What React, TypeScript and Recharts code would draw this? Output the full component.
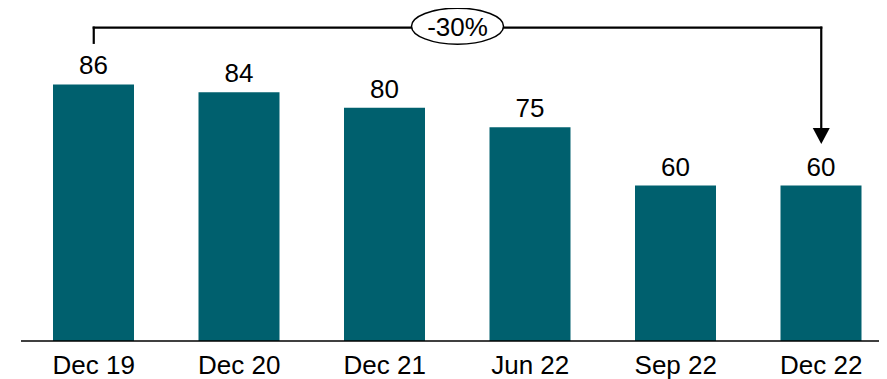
import React from 'react';
import { BarChart, Bar, XAxis, YAxis, LabelList, ReferenceLine } from 'recharts';

const categories = ['Dec 19', 'Dec 20', 'Dec 21', 'Jun 22', 'Sep 22', 'Dec 22'];
const values = [86, 84, 80, 75, 60, 60];
const changeLabel = '-30%';
const bracketLevel = 100.6;
const leftLegEnd = 96.7;
const arrowTipLevel = 70.7;
const yDomain: [number, number] = [20, 100];

const data = categories.map((c, i) => ({ name: c, value: values[i] }));

const FONT = '"Liberation Sans", Arial, sans-serif';
const BAR_COLOR = '#00606E';

const LegShape = (p: any) => (
  <line x1={p.x1} y1={p.y1} x2={p.x2} y2={p.y2} stroke="#000" strokeWidth={2.2} strokeLinecap="square" />
);

const TopShape = (p: any) => {
  const cx = (p.x1 + p.x2) / 2;
  const cy = p.y1 - 1.5;
  return (
    <g>
      <line x1={p.x1} y1={p.y1} x2={p.x2} y2={p.y2} stroke="#000" strokeWidth={2.2} strokeLinecap="square" />
      <ellipse cx={cx} cy={cy} rx={46} ry={18} fill="#fff" stroke="#000" strokeWidth={1.5} />
      <text x={cx} y={cy} dy="0.38em" textAnchor="middle" fontSize={26} fontFamily={FONT} fill="#000">
        {changeLabel}
      </text>
    </g>
  );
};

const ArrowShape = (p: any) => {
  const x = p.x2;
  const yTip = p.y2;
  return (
    <g>
      <line x1={p.x1} y1={p.y1} x2={x} y2={yTip - 15} stroke="#000" strokeWidth={2.2} strokeLinecap="square" />
      <polygon points={`${x - 8.5},${yTip - 16} ${x + 8.5},${yTip - 16} ${x},${yTip}`} fill="#000" />
    </g>
  );
};

export default function App() {
  return (
    <div style={{ width: 879, height: 371, overflow: 'hidden' }}>
      <BarChart
        width={886}
        height={371}
        data={data}
        margin={{ top: 22, right: 0, left: 13, bottom: 0 }}
        style={{ fontFamily: FONT }}
      >
        <XAxis
          dataKey="name"
          height={38}
          tickLine={false}
          tickSize={6}
          tickMargin={9}
          axisLine={{ stroke: '#000', strokeWidth: 1.5 }}
          tick={{ fontSize: 26, fill: '#000', fontFamily: FONT }}
          interval={0}
        />
        <YAxis hide domain={yDomain} allowDataOverflow />
        <Bar dataKey="value" fill={BAR_COLOR} barSize={81} isAnimationActive={false}>
          <LabelList dataKey="value" position="top" offset={10} fontSize={26} fill="#000" fontFamily={FONT} />
        </Bar>
        <ReferenceLine
          segment={[{ x: categories[0], y: bracketLevel }, { x: categories[0], y: leftLegEnd }]}
          ifOverflow="visible"
          shape={LegShape}
        />
        <ReferenceLine
          segment={[{ x: categories[5], y: bracketLevel }, { x: categories[5], y: arrowTipLevel }]}
          ifOverflow="visible"
          shape={ArrowShape}
        />
        <ReferenceLine
          segment={[{ x: categories[0], y: bracketLevel }, { x: categories[5], y: bracketLevel }]}
          ifOverflow="visible"
          shape={TopShape}
        />
      </BarChart>
    </div>
  );
}
